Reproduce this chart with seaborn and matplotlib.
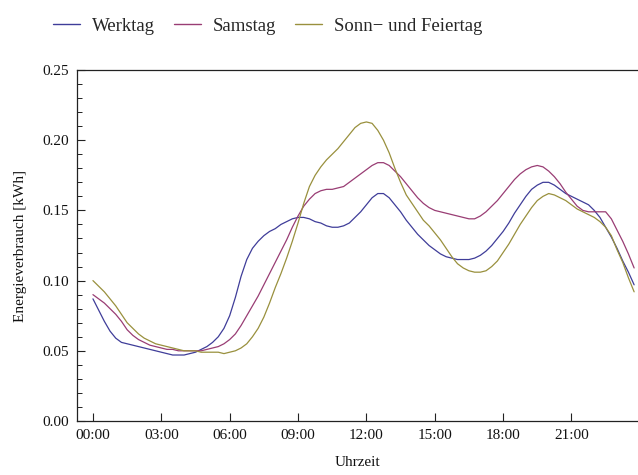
import numpy as np
import pandas as pd
import matplotlib
matplotlib.use("Agg")
import matplotlib.pyplot as plt
from matplotlib.ticker import MultipleLocator
import seaborn as sns

# quarter-hour time steps 00:00 ... 23:45 (in hours)
hours = [i * 0.25 for i in range(96)]

werktag = [0.087, 0.079, 0.071, 0.064, 0.059, 0.056, 0.055, 0.054, 0.053, 0.052,
           0.051, 0.050, 0.049, 0.048, 0.047, 0.047, 0.047, 0.048, 0.049, 0.051,
           0.053, 0.056, 0.060, 0.066, 0.075, 0.088, 0.103, 0.115, 0.123, 0.128,
           0.132, 0.135, 0.137, 0.140, 0.142, 0.144, 0.145, 0.145, 0.144, 0.142,
           0.141, 0.139, 0.138, 0.138, 0.139, 0.141, 0.145, 0.149, 0.154, 0.159,
           0.162, 0.162, 0.159, 0.154, 0.149, 0.143, 0.138, 0.133, 0.129, 0.125,
           0.122, 0.119, 0.117, 0.116, 0.115, 0.115, 0.115, 0.116, 0.118, 0.121,
           0.125, 0.130, 0.135, 0.141, 0.148, 0.154, 0.160, 0.165, 0.168, 0.170,
           0.170, 0.168, 0.165, 0.162, 0.160, 0.158, 0.156, 0.154, 0.150, 0.145,
           0.138, 0.131, 0.123, 0.114, 0.106, 0.097]

samstag = [0.090, 0.087, 0.084, 0.080, 0.076, 0.071, 0.065, 0.061, 0.058, 0.056,
           0.054, 0.053, 0.052, 0.051, 0.051, 0.050, 0.050, 0.050, 0.050, 0.050,
           0.051, 0.052, 0.053, 0.055, 0.058, 0.062, 0.068, 0.075, 0.082, 0.089,
           0.097, 0.105, 0.113, 0.121, 0.129, 0.138, 0.146, 0.153, 0.158, 0.162,
           0.164, 0.165, 0.165, 0.166, 0.167, 0.170, 0.173, 0.176, 0.179, 0.182,
           0.184, 0.184, 0.182, 0.178, 0.174, 0.169, 0.164, 0.159, 0.155, 0.152,
           0.150, 0.149, 0.148, 0.147, 0.146, 0.145, 0.144, 0.144, 0.146, 0.149,
           0.153, 0.157, 0.162, 0.167, 0.172, 0.176, 0.179, 0.181, 0.182, 0.181,
           0.178, 0.174, 0.169, 0.163, 0.158, 0.153, 0.150, 0.149, 0.149, 0.149,
           0.149, 0.144, 0.136, 0.128, 0.119, 0.109]

sonntag = [0.100, 0.096, 0.092, 0.087, 0.082, 0.076, 0.070, 0.066, 0.062, 0.059,
           0.057, 0.055, 0.054, 0.053, 0.052, 0.051, 0.050, 0.050, 0.050, 0.049,
           0.049, 0.049, 0.049, 0.048, 0.049, 0.050, 0.052, 0.055, 0.060, 0.066,
           0.074, 0.084, 0.095, 0.105, 0.116, 0.128, 0.141, 0.155, 0.167, 0.175,
           0.181, 0.186, 0.190, 0.194, 0.199, 0.204, 0.209, 0.212, 0.213, 0.212,
           0.207, 0.200, 0.191, 0.180, 0.170, 0.161, 0.155, 0.149, 0.143, 0.139,
           0.134, 0.129, 0.123, 0.117, 0.112, 0.109, 0.107, 0.106, 0.106, 0.107,
           0.110, 0.114, 0.120, 0.126, 0.133, 0.140, 0.146, 0.152, 0.157, 0.160,
           0.162, 0.161, 0.159, 0.157, 0.154, 0.151, 0.149, 0.147, 0.145, 0.142,
           0.138, 0.132, 0.122, 0.113, 0.102, 0.092]

series_names = ["Werktag", "Samstag", "Sonn\u2212 und Feiertag"]
colors = ["#3f3d99", "#993d74", "#99903d"]

x_ticks = [0, 3, 6, 9, 12, 15, 18, 21]
x_ticklabels = ["00:00", "03:00", "06:00", "09:00", "12:00", "15:00", "18:00", "21:00"]
y_ticks = [0.00, 0.05, 0.10, 0.15, 0.20, 0.25]
y_ticklabels = ["0.00", "0.05", "0.10", "0.15", "0.20", "0.25"]

frames = []
for name, vals in zip(series_names, [werktag, samstag, sonntag]):
    frames.append(pd.DataFrame({"Uhrzeit": hours, "Wert": vals, "Tag": name}))
df = pd.concat(frames, ignore_index=True)

sns.set_theme(style="white")
plt.rcParams["font.family"] = ["Liberation Serif", "DejaVu Serif"]

fig = plt.figure(figsize=(6.38, 4.75), dpi=100)
ax = fig.add_axes([77 / 638, 54 / 475, 1 - 77 / 638, (421 - 70) / 475])

sns.lineplot(data=df, x="Uhrzeit", y="Wert", hue="Tag", hue_order=series_names,
             palette=colors, linewidth=0.9, ax=ax, legend=False)

ax.set_xlim(-0.70, 23.92)
ax.set_ylim(0, 0.25)
ax.set_xticks(x_ticks)
ax.set_xticklabels(x_ticklabels)
ax.set_yticks(y_ticks)
ax.set_yticklabels(y_ticklabels)
ax.yaxis.set_minor_locator(MultipleLocator(0.01))

for side in ["left", "bottom", "top"]:
    ax.spines[side].set_visible(True)
    ax.spines[side].set_color("#222222")
    ax.spines[side].set_linewidth(0.9)
ax.spines["right"].set_visible(False)

ax.tick_params(axis="both", which="major", direction="in", length=6, width=0.8,
               color="#222222", labelsize=11, labelcolor="#111111", pad=6)
ax.tick_params(axis="y", which="minor", direction="in", length=3.5, width=0.7,
               color="#222222", left=True)
ax.tick_params(axis="x", which="both", top=False, bottom=True)
ax.tick_params(axis="y", which="both", right=False, left=True)

ax.set_xlabel("Uhrzeit", fontsize=11, color="#111111", labelpad=10)
ax.set_ylabel("Energieverbrauch [kWh]", fontsize=11, color="#111111", labelpad=11)
ax.grid(False)

handles = [plt.Line2D([0], [0], color=c, linewidth=1.0) for c in colors]
fig.legend(handles, series_names, loc="center", bbox_to_anchor=(268 / 638, 1 - 26 / 475),
           ncol=3, frameon=False, fontsize=13.5, handlelength=1.44, handletextpad=0.64,
           columnspacing=1.0)

fig.savefig("out.png", dpi=100)
